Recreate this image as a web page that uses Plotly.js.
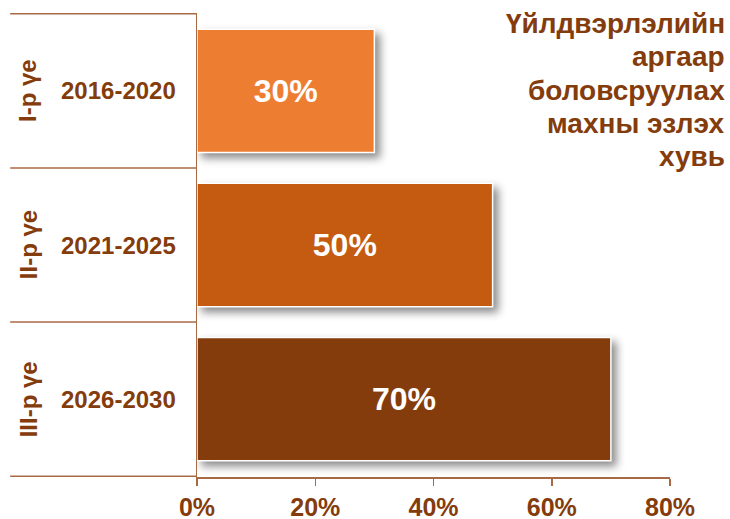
<!DOCTYPE html>
<html>
<head>
<meta charset="utf-8">
<script src="https://cdn.plot.ly/plotly-3.0.1.min.js"></script>
<style>
html,body{margin:0;padding:0;background:#fff;}
#chart{width:730px;height:519px;}
.bars .point path{filter:drop-shadow(5px 5px 4px rgba(0,0,0,0.45));}
</style>
</head>
<body>
<div id="chart"></div>
<script>
const periods = ['2016-2020', '2021-2025', '2026-2030'];
const phases = ['I-р үе', 'II-р үе', 'III-р үе'];
const shares = [30, 50, 70];
const xTickVals = [0, 20, 40, 60, 80];
const xTickText = ['0%', '20%', '40%', '60%', '80%'];
const titleLines = ['Үйлдвэрлэлийн', 'аргаар', 'боловсруулах', 'махны эзлэх', 'хувь'];

const brown = '#843C0C';
const lineCol = '#a86a44';
const fontFam = '"Liberation Sans", Arial, sans-serif';

const trace = {
  type: 'bar',
  orientation: 'h',
  y: periods,
  x: shares,
  width: 0.8,
  text: shares.map(v => v + '%'),
  textposition: 'inside',
  insidetextanchor: 'middle',
  textangle: 0,
  textfont: {family: fontFam, size: 32, color: '#ffffff', weight: 'bold'},
  marker: {
    color: ['#ED7D31', '#C55A11', '#843C0C'],
    line: {color: '#ffffff', width: 1.5}
  },
  hoverinfo: 'none'
};

const annotations = [];
periods.forEach((p, i) => {
  annotations.push({
    xref: 'paper', yref: 'y', x: -0.167, y: p,
    text: p, showarrow: false, xanchor: 'center', yanchor: 'middle',
    font: {family: fontFam, size: 24, color: brown, weight: 'bold'}
  });
  annotations.push({
    xref: 'paper', yref: 'y', x: -0.357, y: p,
    text: phases[i], showarrow: false, textangle: -90,
    xanchor: 'center', yanchor: 'middle',
    font: {family: fontFam, size: 24, color: brown, weight: 'bold'}
  });
});
const titleTop = 23, titleStep = 33.5, plotTop = 13, plotH = 464;
titleLines.forEach((line, i) => {
  annotations.push({
    xref: 'paper', yref: 'paper', x: 1.12,
    y: 1 - (titleTop + i * titleStep - plotTop) / plotH,
    xanchor: 'right', yanchor: 'middle', align: 'right',
    text: line, showarrow: false,
    font: {family: fontFam, size: 28, color: brown, weight: 'bold'}
  });
});

const shapes = [];
for (let k = 0; k <= periods.length; k++) {
  shapes.push({
    type: 'line', xref: 'paper', yref: 'y',
    x0: -0.395, x1: 0, y0: k - 0.5, y1: k - 0.5,
    line: {color: lineCol, width: 1.5}
  });
}

const layout = {
  width: 730, height: 519,
  margin: {l: 197, r: 60, t: 13, b: 42},
  paper_bgcolor: '#ffffff', plot_bgcolor: '#ffffff',
  showlegend: false,
  font: {family: fontFam, color: brown},
  xaxis: {
    range: [0, 80], tickvals: xTickVals, ticktext: xTickText,
    showgrid: false, zeroline: false, showline: true,
    linecolor: lineCol, linewidth: 1.5,
    ticks: 'outside', ticklen: 7, tickcolor: lineCol, tickwidth: 1.5,
    tickfont: {family: fontFam, size: 25, color: brown, weight: 'bold'},
    fixedrange: true
  },
  yaxis: {
    type: 'category', autorange: 'reversed',
    showticklabels: false, showgrid: false, zeroline: false,
    showline: true, linecolor: lineCol, linewidth: 1.5,
    ticks: '', fixedrange: true
  },
  bargap: 0.2,
  annotations: annotations,
  shapes: shapes
};

Plotly.newPlot('chart', [trace], layout, {displayModeBar: false, staticPlot: true});
</script>
</body>
</html>
